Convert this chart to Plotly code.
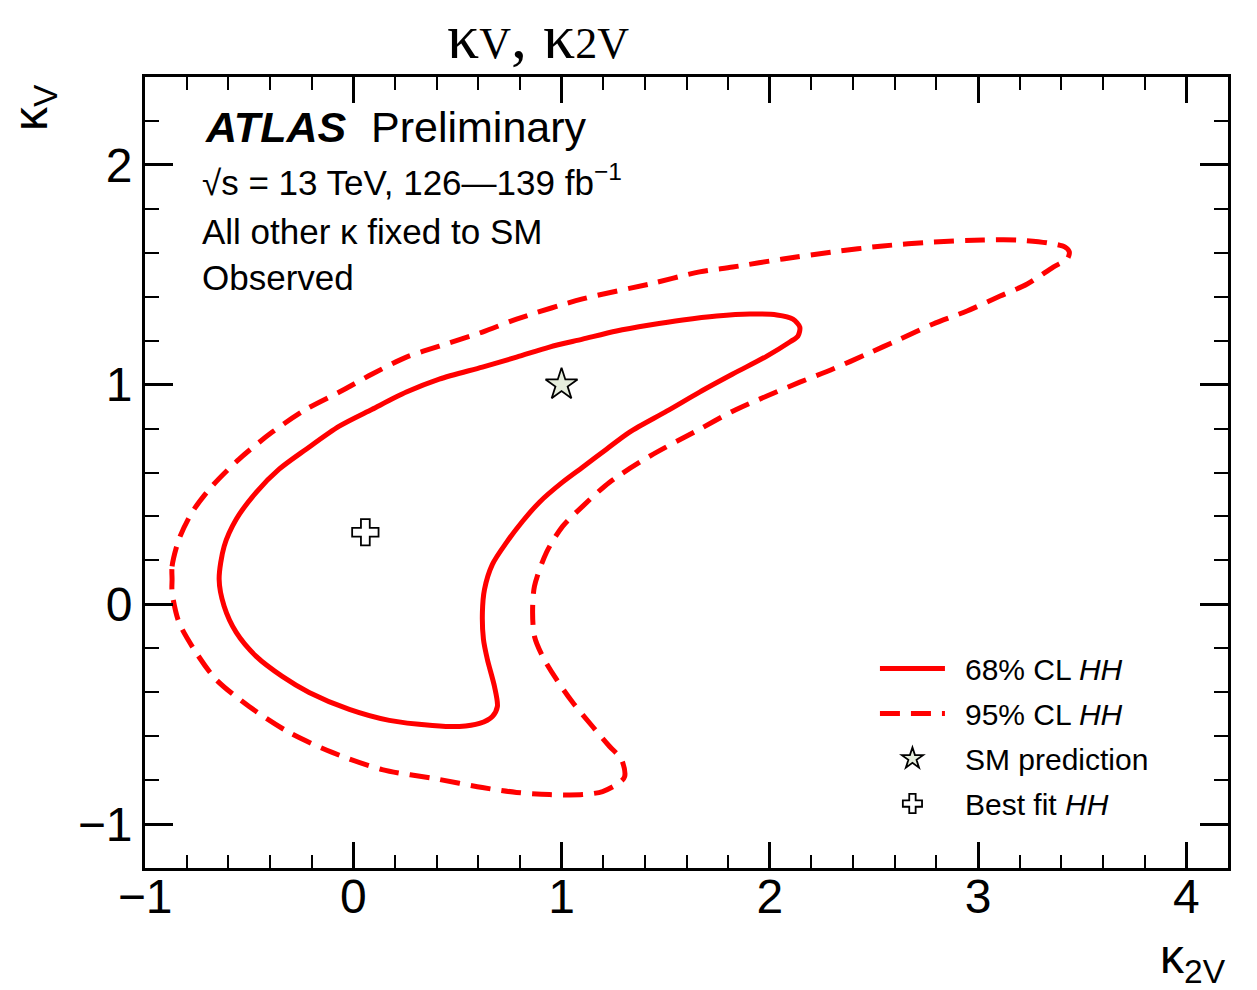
import plotly.graph_objects as go

# 68% CL contour (kappa_2V, kappa_V), observed
cl68_k2v = [-0.644, -0.620, -0.562, -0.466, -0.356, -0.226, -0.067, 0.091, 0.255, 0.413,
            0.620, 0.784, 0.942, 1.101, 1.264, 1.423, 1.582, 1.745, 1.904, 2.034,
            2.111, 2.144, 2.135, 2.096, 1.986, 1.822, 1.663, 1.505, 1.327, 1.216,
            1.101, 1.005, 0.894, 0.813, 0.736, 0.668, 0.630, 0.620, 0.625, 0.644,
            0.678, 0.692, 0.668, 0.606, 0.510, 0.380, 0.173, -0.019, -0.212, -0.341,
            -0.466, -0.562, -0.620, -0.644]
cl68_kv = [0.114, 0.264, 0.387, 0.510, 0.615, 0.706, 0.811, 0.888, 0.966, 1.025,
           1.080, 1.125, 1.171, 1.207, 1.244, 1.271, 1.294, 1.312, 1.321, 1.317,
           1.298, 1.262, 1.221, 1.194, 1.130, 1.048, 0.966, 0.879, 0.784, 0.706,
           0.624, 0.556, 0.465, 0.378, 0.282, 0.182, 0.068, -0.036, -0.159, -0.251,
           -0.374, -0.465, -0.510, -0.542, -0.556, -0.551, -0.528, -0.478, -0.401, -0.328,
           -0.237, -0.128, -0.009, 0.114]

# 95% CL contour
cl95_k2v = [-0.870, -0.870, -0.837, -0.774, -0.678, -0.548, -0.389, -0.226, -0.067, 0.091,
            0.255, 0.413, 0.620, 0.784, 1.101, 1.423, 1.663, 1.822, 2.063, 2.303,
            2.543, 2.784, 3.024, 3.188, 3.332, 3.418, 3.438, 3.428, 3.361, 3.236,
            3.106, 2.947, 2.784, 2.625, 2.466, 2.303, 2.144, 1.986, 1.822, 1.663,
            1.423, 1.231, 1.101, 1.005, 0.928, 0.870, 0.861, 0.870, 0.909, 0.976,
            1.053, 1.149, 1.231, 1.288, 1.303, 1.279, 1.197, 1.101, 0.942, 0.784,
            0.620, 0.413, 0.139, -0.101, -0.308, -0.500, -0.659, -0.755, -0.837, -0.870,
            -0.870]
cl95_kv = [0.114, 0.173, 0.296, 0.419, 0.538, 0.661, 0.784, 0.888, 0.966, 1.048,
           1.125, 1.175, 1.239, 1.298, 1.390, 1.458, 1.513, 1.535, 1.572, 1.604,
           1.631, 1.649, 1.658, 1.658, 1.645, 1.626, 1.604, 1.572, 1.535, 1.458,
           1.403, 1.335, 1.276, 1.207, 1.139, 1.071, 1.011, 0.948, 0.879, 0.797,
           0.674, 0.556, 0.446, 0.355, 0.237, 0.082, -0.036, -0.146, -0.237, -0.342,
           -0.446, -0.556, -0.647, -0.706, -0.784, -0.811, -0.852, -0.866, -0.866, -0.856,
           -0.834, -0.797, -0.752, -0.674, -0.583, -0.465, -0.342, -0.219, -0.082, 0.055,
           0.114]

sm_point = ([1.0], [1.0])
best_fit = ([0.058], [0.328])

x_range = [-1.0, 4.2]
y_range = [-1.2, 2.4]

SANS = "Liberation Sans, Arial, Helvetica, sans-serif"
SERIF = "Liberation Serif, Times New Roman, serif"
RED = "#ff0000"
PAD = "\u2002"  # en space between legend key and label

fig = go.Figure()

fig.add_trace(go.Scatter(
    x=cl68_k2v, y=cl68_kv, mode="lines", name=PAD + "68% CL <i>HH</i>",
    line=dict(color=RED, width=5, shape="spline", smoothing=0.8),
    legendgroup="a"))
fig.add_trace(go.Scatter(
    x=cl95_k2v, y=cl95_kv, mode="lines", name=PAD + "95% CL <i>HH</i>",
    line=dict(color=RED, width=5, dash="20px,11px", shape="spline", smoothing=0.8),
    legendgroup="b"))
fig.add_trace(go.Scatter(
    x=sm_point[0], y=sm_point[1], mode="markers", name=PAD + "SM prediction",
    marker=dict(symbol="star", size=24, color="#e6eedd",
                line=dict(color="black", width=1.8)),
    legendgroup="c"))
fig.add_trace(go.Scatter(
    x=best_fit[0], y=best_fit[1], mode="markers", name=PAD + "Best fit <i>HH</i>",
    marker=dict(symbol="cross", size=22, color="white",
                line=dict(color="black", width=1.8)),
    legendgroup="d"))

axis_common = dict(
    showgrid=False, zeroline=False, showline=True, linecolor="black", linewidth=3,
    mirror="allticks", ticks="inside", tickcolor="black", tickwidth=3,
    tickfont=dict(family=SANS, size=48, color="black"),
)

fig.update_xaxes(
    range=x_range, tick0=0, dtick=1, ticklen=26, ticklabelstandoff=-16,
    minor=dict(ticks="inside", dtick=0.2, ticklen=13, tickwidth=2, tickcolor="black",
               showgrid=False),
    **axis_common)
fig.update_yaxes(
    range=y_range, tick0=0, dtick=1, ticklen=28,
    minor=dict(ticks="inside", dtick=0.2, ticklen=14, tickwidth=2, tickcolor="black",
               showgrid=False),
    **axis_common)

small = "<span style='font-size:44px'>{}</span>"
title_text = "κ" + small.format("V") + ", κ" + small.format("2V")

annotations = [
    dict(text=title_text, x=(538 - 145) / 1083, y=1.0,
         yshift=78, xanchor="center", yanchor="top",
         font=dict(family=SERIF, size=64, color="black")),
    dict(text="κ<sub>V</sub>", x=-0.103, y=1.0, xanchor="center", yanchor="top",
         textangle=-90, yshift=-5, font=dict(family=SANS, size=48, color="black")),
    dict(text="κ<sub>2V</sub>", x=1.0, y=0, xanchor="right", yanchor="middle",
         yshift=-92, font=dict(family=SANS, size=48, color="black")),
    dict(text="<b><i>ATLAS</i></b>", x=(203 - 145) / 1083, y=0.937, xanchor="left",
         yanchor="middle", font=dict(family=SANS, size=43, color="black")),
    dict(text="Preliminary", x=(369 - 145) / 1083, y=0.937, xanchor="left",
         yanchor="middle", font=dict(family=SANS, size=43, color="black")),
    dict(text="√s = 13 TeV, 126—139 fb<sup>−1</sup>", x=(200 - 145) / 1083, y=0.870,
         xanchor="left", yanchor="middle", font=dict(family=SANS, size=35, color="black")),
    dict(text="All other κ fixed to SM", x=(200 - 145) / 1083, y=0.805,
         xanchor="left", yanchor="middle", font=dict(family=SANS, size=35, color="black")),
    dict(text="Observed", x=(200 - 145) / 1083, y=0.746,
         xanchor="left", yanchor="middle", font=dict(family=SANS, size=35, color="black")),
]
for a in annotations:
    a.update(xref="paper", yref="paper", showarrow=False)

fig.update_layout(
    width=1257, height=990,
    margin=dict(l=145, r=29, t=77, b=122),
    paper_bgcolor="white", plot_bgcolor="white",
    annotations=annotations,
    showlegend=True,
    legend=dict(x=0.674, y=0.285, xanchor="left", yanchor="top",
                bgcolor="rgba(0,0,0,0)", borderwidth=0,
                font=dict(family=SANS, size=30, color="black"),
                tracegroupgap=3, itemwidth=65),
)

fig.write_html("out.html")
